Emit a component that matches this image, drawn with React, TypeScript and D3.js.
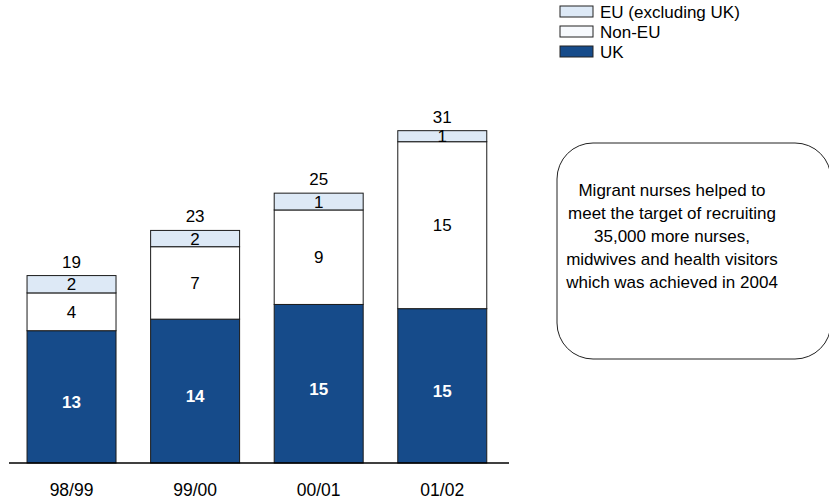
import React from "react";
import * as d3 from "d3";

const categories = ["98/99", "99/00", "00/01", "01/02"];
const ukValues = [12.6, 13.7, 15.1, 14.7];
const nonEuValues = [3.6, 6.9, 9.0, 15.9];
const euValues = [1.65, 1.55, 1.6, 1.05];
const ukLabels = ["13", "14", "15", "15"];
const nonEuLabels = ["4", "7", "9", "15"];
const euLabels = ["2", "2", "1", "1"];
const totalLabels = ["19", "23", "25", "31"];

const seriesKeys = ["uk", "nonEu", "eu"];
const legendItems = [
  { key: "eu", label: "EU (excluding UK)" },
  { key: "nonEu", label: "Non-EU" },
  { key: "uk", label: "UK" },
];
const noteLines = [
  "Migrant nurses helped to",
  "meet the target of recruiting",
  "35,000 more nurses,",
  "midwives and health visitors",
  "which was achieved in 2004",
];

const COLORS: Record<string, string> = { uk: "#164b8a", nonEu: "#ffffff", eu: "#dde9f6" };
const LEGEND_FILL: Record<string, string> = { uk: "#164b8a", nonEu: "#f6f9fd", eu: "#dde9f6" };
const FONT = "'Liberation Sans', Arial, Helvetica, sans-serif";

export default function App() {
  const W = 829, H = 504;
  const baseY = 463;
  const x = d3.scaleBand<string>().domain(categories).range([8.5, 505.3]).paddingInner(0.28).paddingOuter(0.15);
  const y = d3.scaleLinear().domain([0, 35]).range([baseY, baseY - 35 * 10.5]);

  const rows = categories.map((c, i) => ({ cat: c, uk: ukValues[i], nonEu: nonEuValues[i], eu: euValues[i] }));
  const stacked = d3.stack<any>().keys(seriesKeys)(rows);
  const labelMap: Record<string, string[]> = { uk: ukLabels, nonEu: nonEuLabels, eu: euLabels };

  return (
    <svg width={W} height={H} style={{ position: "absolute", left: 0, top: 0, background: "#fff" }} fontFamily={FONT}>
      <rect x={0} y={0} width={W} height={H} fill="#fff" />
      {stacked.map((s) => (
        <g key={s.key}>
          {s.map((d, i) => {
            const x0 = x(categories[i])!;
            const y0 = y(d[1]);
            const y1 = y(d[0]);
            const cx = x0 + x.bandwidth() / 2;
            const isUk = s.key === "uk";
            return (
              <g key={i}>
                <rect x={x0} y={y0} width={x.bandwidth()} height={y1 - y0} fill={COLORS[s.key]} stroke="#1a1a1a" strokeWidth={1} />
                <text
                  x={cx}
                  y={(y0 + y1) / 2 + (isUk ? 11 : 6)}
                  textAnchor="middle"
                  fontSize={17}
                  fontWeight={isUk ? "bold" : "normal"}
                  fill={isUk ? "#ffffff" : "#000"}
                >
                  {labelMap[s.key][i]}
                </text>
              </g>
            );
          })}
        </g>
      ))}
      {stacked[stacked.length - 1].map((d, i) => (
        <text key={i} x={x(categories[i])! + x.bandwidth() / 2} y={y(d[1]) - 8} textAnchor="middle" fontSize={17} fill="#000">
          {totalLabels[i]}
        </text>
      ))}
      <line x1={9} x2={509} y1={baseY} y2={baseY} stroke="#000" strokeWidth={1.5} />
      {categories.map((c) => (
        <text key={c} x={x(c)! + x.bandwidth() / 2} y={496} textAnchor="middle" fontSize={17.5} fill="#000">
          {c}
        </text>
      ))}
      {legendItems.map((it, i) => (
        <g key={it.key}>
          <rect x={560} y={6 + i * 20} width={33} height={11} fill={LEGEND_FILL[it.key]} stroke="#222" strokeWidth={1} />
          <text x={600} y={18 + i * 20} fontSize={17} fill="#000">
            {it.label}
          </text>
        </g>
      ))}
      <rect x={557} y={143} width={274} height={216} rx={36} ry={36} fill="#fff" stroke="#222" strokeWidth={1} />
      {noteLines.map((t, i) => (
        <text key={i} x={672} y={196 + i * 23} textAnchor="middle" fontSize={17} fill="#000">
          {t}
        </text>
      ))}
    </svg>
  );
}
